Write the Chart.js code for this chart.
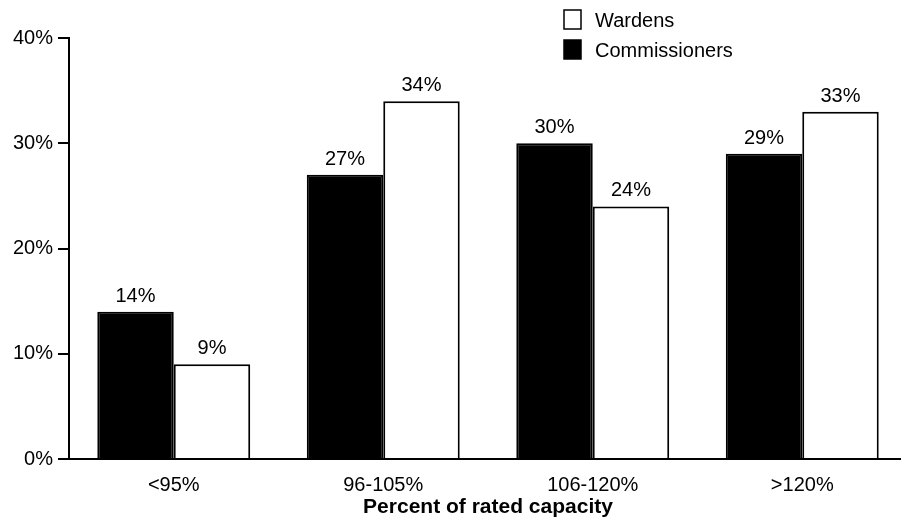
<!DOCTYPE html>
<html>
<head>
<meta charset="utf-8">
<script src="https://cdn.jsdelivr.net/npm/chart.js@4.4.0/dist/chart.umd.min.js"></script>
<style>
  html, body { margin: 0; padding: 0; background: #fff; }
  canvas { display: block; }
</style>
</head>
<body>
<canvas id="capacity-chart" width="901" height="526"></canvas>
<script>
// Data
const categories = ['<95%', '96-105%', '106-120%', '>120%'];
const commissionersValues = [14, 27, 30, 29];
const wardensValues = [9, 34, 24, 33];
const yTicks = [0, 10, 20, 30, 40];
const xTitle = 'Percent of rated capacity';

Chart.defaults.font.family = '"Liberation Sans", Arial, Helvetica, sans-serif';
Chart.defaults.font.size = 20;
Chart.defaults.color = '#000';

// The x axis in the original runs a little past the right edge of the page
const stretchXAxis = {
    id: 'stretchXAxis',
    afterLayout(chart) {
        const x = chart.scales.x;
        x.right = x.left + 838;
        x.width = x.right - x.left;
        x.configure();
    }
};

// Percent labels above every bar
const barValueLabels = {
    id: 'barValueLabels',
    afterDatasetsDraw(chart) {
        const ctx = chart.ctx;
        ctx.save();
        ctx.font = '20px "Liberation Sans", Arial, sans-serif';
        ctx.fillStyle = '#000';
        ctx.textAlign = 'center';
        ctx.textBaseline = 'alphabetic';
        chart.data.datasets.forEach((ds, i) => {
            chart.getDatasetMeta(i).data.forEach((bar, j) => {
                ctx.fillText(ds.data[j] + '%', bar.x, bar.y - 10);
            });
        });
        ctx.restore();
    }
};

// Legend in the top right corner, Wardens listed first
const cornerLegend = {
    id: 'cornerLegend',
    afterDraw(chart) {
        const ctx = chart.ctx;
        const order = chart.data.datasets.slice().reverse();
        ctx.save();
        ctx.font = '20px "Liberation Sans", Arial, sans-serif';
        ctx.textBaseline = 'middle';
        ctx.textAlign = 'left';
        order.forEach((ds, i) => {
            const top = 10 + i * 30;
            ctx.fillStyle = ds.backgroundColor;
            ctx.fillRect(564, top, 17, 19);
            ctx.strokeStyle = '#000';
            ctx.lineWidth = 1.5;
            ctx.strokeRect(564, top, 17, 19);
            ctx.fillStyle = '#000';
            ctx.fillText(ds.label, 595, top + 11);
        });
        ctx.restore();
    }
};

const ctx = document.getElementById('capacity-chart').getContext('2d');
new Chart(ctx, {
    type: 'bar',
    data: {
        labels: categories,
        datasets: [
            {
                label: 'Commissioners',
                data: commissionersValues,
                backgroundColor: '#000',
                borderColor: '#000',
                borderWidth: 2,
            },
            {
                label: 'Wardens',
                data: wardensValues,
                backgroundColor: '#fff',
                borderColor: '#000',
                borderWidth: 2,
            },
        ],
    },
    options: {
        responsive: false,
        animation: false,
        devicePixelRatio: 1,
        layout: {
            padding: { top: 38, right: 0, bottom: 0, left: 0 },
        },
        datasets: {
            bar: {
                categoryPercentage: 0.73,
                barPercentage: 1,
                clip: false,
            },
        },
        plugins: {
            legend: { display: false },
            tooltip: { enabled: false },
        },
        scales: {
            x: {
                grid: { display: false },
                border: { display: true, color: '#000', width: 2 },
                ticks: { padding: 6, font: { size: 20 } },
                title: {
                    display: true,
                    text: xTitle,
                    font: { size: 21, weight: 'bold' },
                    padding: { top: 0, bottom: 6 },
                },
                afterFit: (scale) => { scale.height = 67; },
            },
            y: {
                min: yTicks[0],
                max: yTicks[yTicks.length - 1],
                afterBuildTicks: (scale) => {
                    scale.ticks = yTicks.map(v => ({ value: v }));
                },
                grid: {
                    drawOnChartArea: false,
                    drawTicks: true,
                    tickLength: 11,
                    color: '#000',
                    lineWidth: 2,
                },
                border: { display: true, color: '#000', width: 2 },
                ticks: {
                    padding: 5,
                    font: { size: 20 },
                    callback: (v) => v + '%',
                },
                afterFit: (scale) => { scale.width = 69; },
            },
        },
    },
    plugins: [stretchXAxis, barValueLabels, cornerLegend],
});
</script>
</body>
</html>
